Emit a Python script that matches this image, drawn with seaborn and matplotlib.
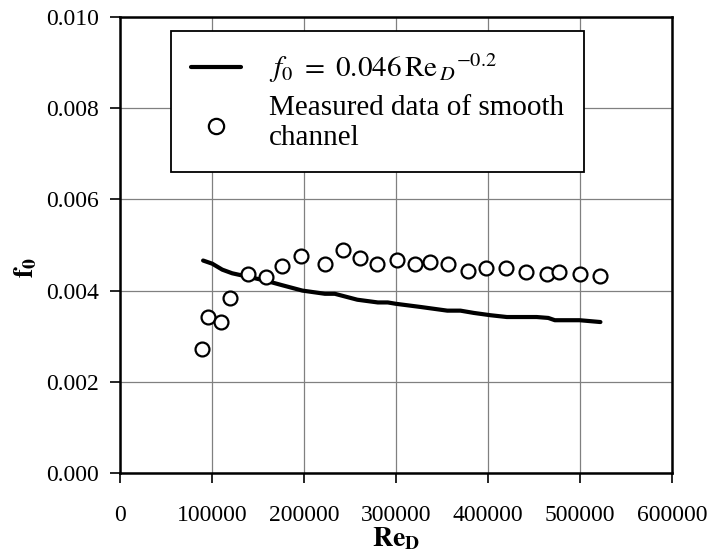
import numpy as np
import pandas as pd
import seaborn as sns
import matplotlib.pyplot as plt
import matplotlib.ticker as ticker

# measured points (smooth channel)
re_meas = [89900, 96000, 109700, 120100, 139500, 158900, 175800, 197400, 223300,
           242100, 260700, 279400, 301000, 320700, 337600, 356700, 379000, 398100,
           419700, 441200, 464200, 477900, 499800, 521400]
f_meas = [0.00271, 0.00341, 0.00332, 0.00384, 0.00437, 0.00429, 0.00455, 0.00476, 0.00459,
          0.00490, 0.00471, 0.00459, 0.00468, 0.00458, 0.00462, 0.00458, 0.00444, 0.00449,
          0.00449, 0.00440, 0.00437, 0.00440, 0.00437, 0.00433]

# correlation curve f0 = 0.046 Re^-0.2
re_line = [90600, 100600, 111400, 122200, 140200, 158200, 176200, 198500, 223000,
           233700, 258200, 280500, 291300, 300200, 327200, 356000, 370300, 384800,
           402700, 420700, 453100, 465700, 472900, 499800, 522400]
f_line = [0.00466, 0.00459, 0.00446, 0.00438, 0.00430, 0.00422, 0.00412, 0.00400, 0.00393,
          0.00393, 0.00380, 0.00374, 0.00374, 0.00371, 0.00364, 0.00356, 0.00356, 0.00351,
          0.00346, 0.00342, 0.00342, 0.00340, 0.00335, 0.00335, 0.00331]

df_meas = pd.DataFrame({"Re": re_meas, "f0": f_meas})
df_line = pd.DataFrame({"Re": re_line, "f0": f_line})

sns.set_theme(style="whitegrid")
plt.rcParams['font.family'] = ['Liberation Serif', 'DejaVu Serif']
plt.rcParams['mathtext.fontset'] = 'stix'
plt.rcParams['text.color'] = 'black'

fig = plt.figure(figsize=(7.17, 5.55), dpi=100)
ax = fig.add_axes([0.167, 0.148, 0.770, 0.821])

sns.lineplot(data=df_line, x="Re", y="f0", ax=ax, color="black", linewidth=3.0,
             label=r'$f_0\ =\ 0.046\,\mathrm{Re}_{\,D}{}^{-0.2}$', zorder=2)
sns.scatterplot(data=df_meas, x="Re", y="f0", ax=ax, marker="o", s=100,
                facecolor="white", edgecolor="black", linewidth=1.6,
                label="Measured data of smooth\nchannel", zorder=3)

ax.set_xlim(0, 600000)
ax.set_ylim(0, 0.010)
ax.xaxis.set_major_locator(ticker.MultipleLocator(100000))
ax.yaxis.set_major_locator(ticker.MultipleLocator(0.002))
ax.xaxis.set_major_formatter(ticker.FuncFormatter(lambda x, _: f'{int(x)}'))
ax.yaxis.set_major_formatter(ticker.FormatStrFormatter('%.3f'))

ax.grid(True, color="#808080", linewidth=0.9)
for s in ax.spines.values():
    s.set_color("black")
    s.set_linewidth(1.8)
ax.tick_params(axis='both', direction='out', length=7, width=1.2, color='black',
               labelsize=17, labelcolor='black')
ax.tick_params(axis='x', pad=16, bottom=True)
ax.tick_params(axis='y', pad=8, left=True)

ax.set_xlabel(r'$\mathbf{Re}_\mathbf{D}$', fontsize=20, labelpad=0, color='black')
ax.set_ylabel(r'$\mathbf{f}_\mathbf{0}$', fontsize=20, color='black')
ax.yaxis.set_label_coords(-0.145, 0.45)

leg = ax.legend(loc='upper left', bbox_to_anchor=(171 / 717, 1 - 31 / 555),
                bbox_transform=fig.transFigure, fontsize=21, frameon=True,
                fancybox=False, framealpha=1, edgecolor='black', handlelength=1.7,
                handletextpad=0.95, labelspacing=0.35, borderpad=0.7,
                borderaxespad=0, markerscale=1.1)
leg.get_frame().set_linewidth(1.3)
for t in leg.get_texts():
    t.set_color('black')

plt.savefig("out.png", dpi=100)
